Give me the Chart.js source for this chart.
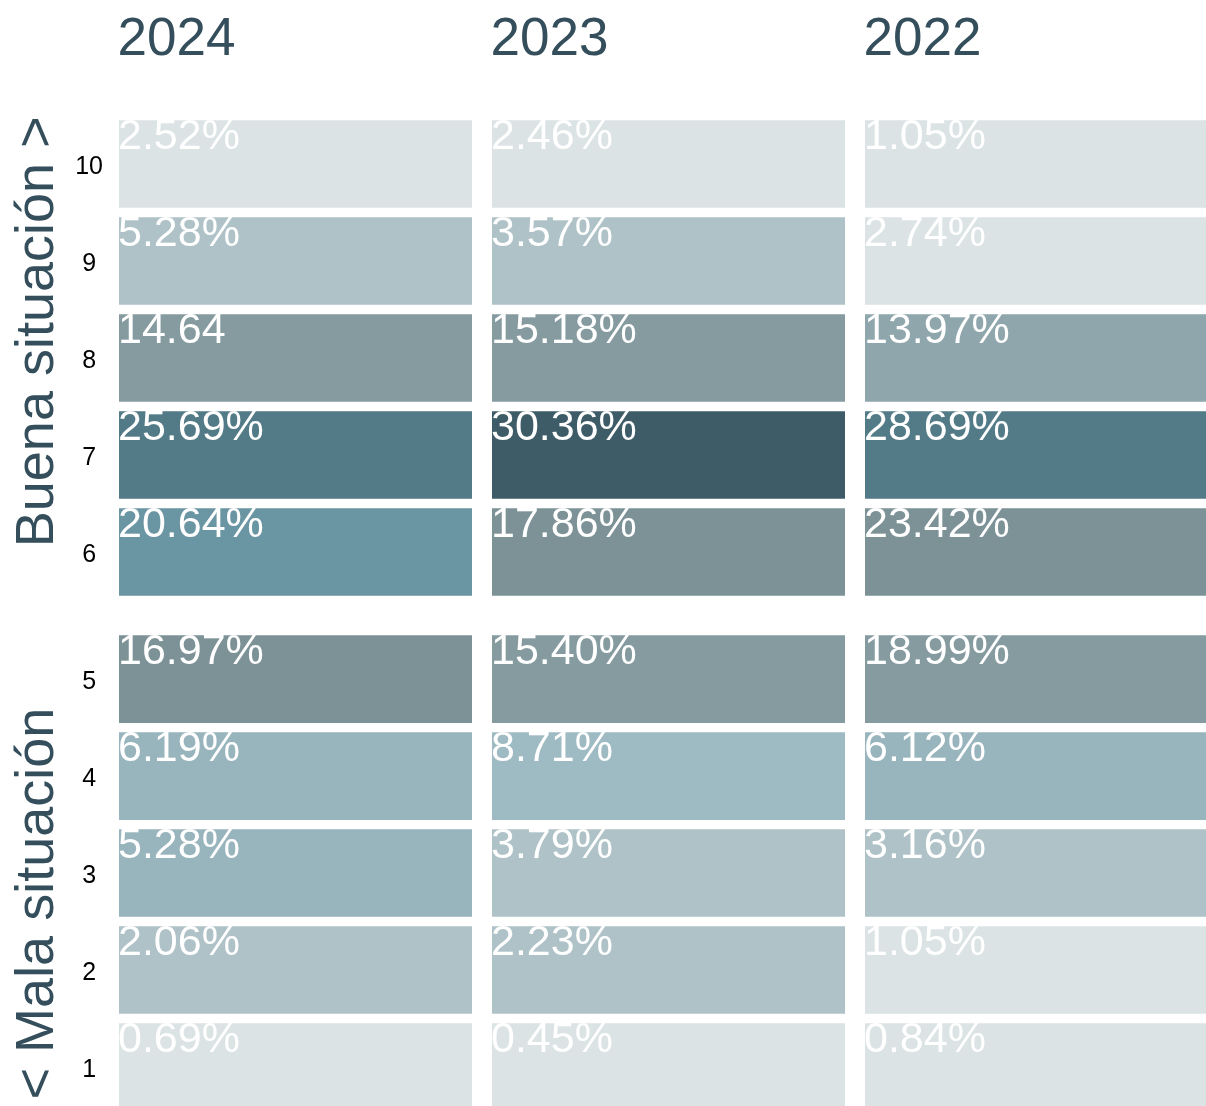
<!DOCTYPE html>
<html>
<head>
<meta charset="utf-8">
<script src="https://cdn.jsdelivr.net/npm/chart.js@4"></script>
<style>
  html, body { margin: 0; padding: 0; background: #fff; overflow: hidden; }
  #wrap { width: 1206px; height: 1106px; overflow: hidden; }
  canvas { display: block; }
</style>
</head>
<body>
<div id="wrap"><canvas id="chart" width="1228" height="1106"></canvas></div>
<script>
// Columns and rows of the grid
const years = ['2024', '2023', '2022'];
const rows = [10, 9, 8, 7, 6, 5, 4, 3, 2, 1];

// Share of answers per score (rows 10 -> 1)
const pct2024 = [2.52, 5.28, 14.64, 25.69, 20.64, 16.97, 6.19, 5.28, 2.06, 0.69];
const pct2023 = [2.46, 3.57, 15.18, 30.36, 17.86, 15.40, 8.71, 3.79, 2.23, 0.45];
const pct2022 = [1.05, 2.74, 13.97, 28.69, 23.42, 18.99, 6.12, 3.16, 1.05, 0.84];
// the original prints this one without the % sign
const noPercent = [{ year: '2024', row: 8 }];

// Cell colours as they appear in the picture (rows 10 -> 1)
const fill2024 = ['#dbe3e5', '#afc2c7', '#859ba0', '#527a87', '#6a95a2', '#7d9297', '#98b4bd', '#98b4bd', '#afc2c7', '#dbe3e5'];
const fill2023 = ['#dbe3e5', '#afc2c7', '#859ba0', '#3e5c67', '#7d9297', '#859ba0', '#9ebac3', '#afc2c7', '#afc2c7', '#dbe3e5'];
const fill2022 = ['#dbe3e5', '#dbe3e5', '#8fa6ac', '#527a87', '#7d9297', '#859ba0', '#98b4bd', '#afc2c7', '#dbe3e5', '#dbe3e5'];

const TITLE_COLOR = '#344e5c';
const FONT = '"Liberation Sans", Arial, Helvetica, sans-serif';

// rows 6-10 sit a bit higher to leave a gap between the two groups
const GROUP_GAP = 0.31;
const HALF = 0.452;
function rowPos(r) {
    return r >= 6 ? r + GROUP_GAP : r;
}

const valuesByYear = [pct2024, pct2023, pct2022];
const fillsByYear = [fill2024, fill2023, fill2022];

function cellLabel(j, i) {
    const v = valuesByYear[j][i];
    const plain = noPercent.some(n => n.year === years[j] && n.row === rows[i]);
    return v.toFixed(2) + (plain ? '' : '%');
}

const datasets = rows.map((r, i) => ({
    label: String(r),
    data: years.map(() => [rowPos(r) - HALF, rowPos(r) + HALF]),
    backgroundColor: fillsByYear.map(f => f[i]),
    borderWidth: 0,
    grouped: false,
    categoryPercentage: 1,
    barPercentage: 0.9464
}));

// white value text in the top-left corner of each cell
const cellText = {
    id: 'cellText',
    afterDatasetsDraw(chart) {
        const ctx = chart.ctx;
        ctx.save();
        ctx.font = '43px ' + FONT;
        ctx.fillStyle = '#ffffff';
        ctx.textAlign = 'left';
        ctx.textBaseline = 'alphabetic';
        chart.data.datasets.forEach((ds, i) => {
            chart.getDatasetMeta(i).data.forEach((bar, j) => {
                const p = bar.getProps(['x', 'y', 'base', 'width'], true);
                const top = Math.min(p.y, p.base);
                ctx.fillText(cellLabel(j, i), p.x - p.width / 2 - 1, top + 29);
            });
        });
        ctx.restore();
    }
};

// the two rotated group titles on the left
const sideTitles = {
    id: 'sideTitles',
    afterDraw(chart) {
        const ctx = chart.ctx;
        const y = chart.scales.y;
        const items = [
            { text: 'Buena situación >', mid: (rowPos(10) + rowPos(6)) / 2 + 0.27 },
            { text: '< Mala situación', mid: (rowPos(5) + rowPos(1)) / 2 - 0.315 }
        ];
        ctx.save();
        ctx.font = '54px ' + FONT;
        ctx.fillStyle = TITLE_COLOR;
        ctx.textAlign = 'center';
        ctx.textBaseline = 'alphabetic';
        items.forEach(it => {
            ctx.save();
            ctx.translate(53, y.getPixelForValue(it.mid));
            ctx.rotate(-Math.PI / 2);
            ctx.fillText(it.text, 0, 0);
            ctx.restore();
        });
        ctx.restore();
    }
};

new Chart(document.getElementById('chart'), {
    type: 'bar',
    data: { labels: years, datasets },
    options: {
        responsive: false,
        animation: false,
        layout: { padding: 0 },
        plugins: {
            legend: { display: false },
            tooltip: { enabled: false }
        },
        scales: {
            x: {
                type: 'category',
                position: 'top',
                grid: { display: false },
                border: { display: false },
                ticks: {
                    align: 'start',
                    labelOffset: -178,
                    padding: 40,
                    maxRotation: 0,
                    autoSkip: false,
                    color: TITLE_COLOR,
                    font: { family: FONT, size: 53 }
                },
                afterFit(scale) {
                    scale.height = 120;
                    scale.paddingLeft = 0;
                    scale.paddingRight = 0;
                }
            },
            y: {
                type: 'linear',
                min: 0.598,
                max: 10.764,
                grid: { display: false },
                border: { display: false },
                afterBuildTicks(scale) {
                    scale.ticks = rows.map(r => ({ value: rowPos(r) }));
                },
                ticks: {
                    autoSkip: false,
                    crossAlign: 'center',
                    padding: -2,
                    labelOffset: 3,
                    color: '#000000',
                    font: { family: FONT, size: 25 },
                    callback: (value, index) => String(rows[index])
                },
                afterFit(scale) {
                    scale.width = 109;
                    scale.paddingTop = 0;
                    scale.paddingBottom = 0;
                }
            }
        }
    },
    plugins: [cellText, sideTitles]
});
</script>
</body>
</html>
